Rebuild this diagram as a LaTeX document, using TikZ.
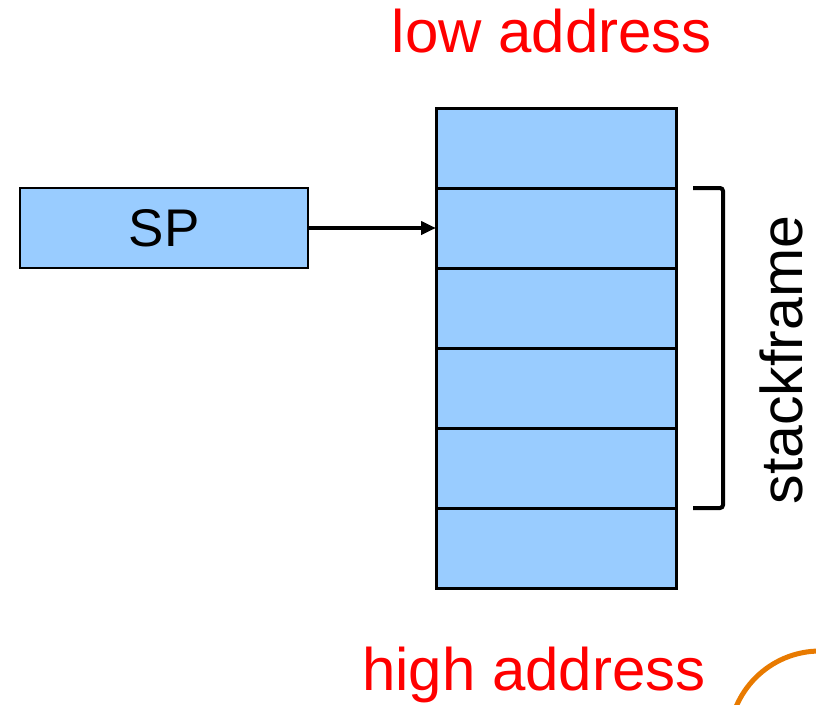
\documentclass[tikz,border=0pt]{standalone}
\usepackage{fontspec}
\setmainfont{Liberation Sans}
\usetikzlibrary{positioning,arrows.meta}
\definecolor{cellblue}{RGB}{153,204,255}
\definecolor{arcorange}{RGB}{232,122,0}
\tikzset{
    cell/.style={draw, fill=cellblue, line width=3pt, minimum width=240pt,
        minimum height=80pt, inner sep=0pt, outer sep=0pt},
    addr/.style={text=red, font=\fontsize{60}{60}\selectfont, anchor=base, inner sep=0pt},
}
\begin{document}
\begin{tikzpicture}[x=1pt, y=-1pt]
    \useasboundingbox (0,0) rectangle (816,704);
    % the stack
    \node [cell] (c1) at (556,148) {};
    \foreach \i [count=\j] in {2,...,6}
        \node [cell, below=0pt of c\j] (c\i) {};
    % stack pointer
    \node [cell, minimum width=288pt, line width=2.5pt,
        font=\fontsize{53}{53}\selectfont] (sp) at (164,228) {SP};
    \draw [-{Triangle[length=15pt,width=13pt]}, line width=4pt] (sp.east) -- (c2.west);
    % bracket
    \draw [line width=4pt, rounded corners=3pt] (693,188) -- (723,188) -- (723,508) -- (693,508);
    \node [rotate=90, anchor=base, inner sep=0pt, font=\fontsize{59}{59}\selectfont] (frame) at (802,360) {stackframe};
    \node [addr] (low) at (552,52) {low address};
    \node [addr] (high) at (534,690) {high address};
    \begin{scope}
        \clip (0,0) rectangle (816,704);
        \draw [arcorange, line width=5pt] (820,742) circle [radius=91];
    \end{scope}
\end{tikzpicture}
\end{document}
